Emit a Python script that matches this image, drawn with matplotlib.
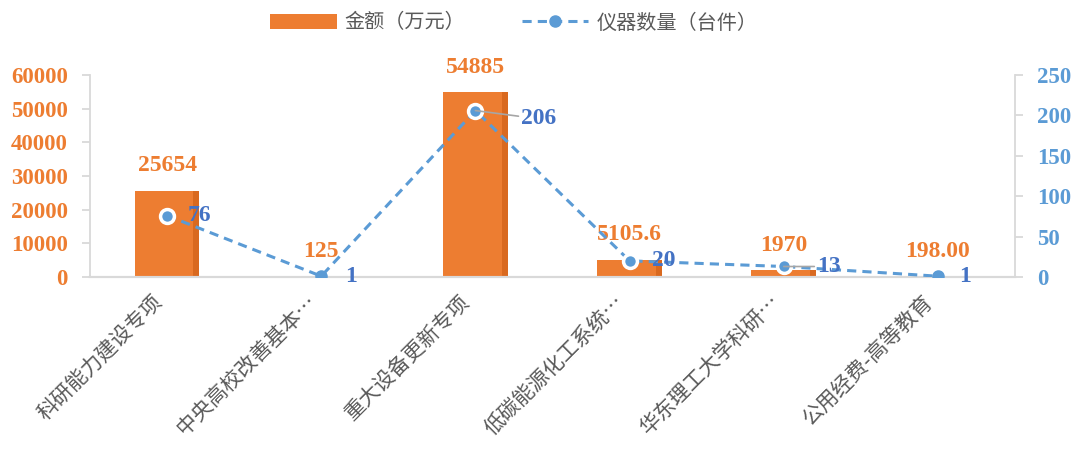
import matplotlib
matplotlib.use('Agg')
import matplotlib.pyplot as plt
from matplotlib.patches import Patch
from matplotlib.lines import Line2D
import numpy as np

# ===========数据================
categories = ['科研能力建设专项', '中央高校改善基本…', '重大设备更新专项',
              '低碳能源化工系统…', '华东理工大学科研…', '公用经费-高等教育']
amount = [25654, 125, 54885, 5105.6, 1970, 198.00]
amount_labels = ['25654', '125', '54885', '5105.6', '1970', '198.00']
count = [76, 1, 206, 20, 13, 1]

ORANGE = '#ED7D31'
ORANGE_DARK = '#D9691F'
BLUE = '#5B9BD5'
BLUE_TXT = '#4472C4'
GRAY = '#595959'
CJK = ['Noto Sans CJK SC', 'DejaVu Sans']
NUM = ['Liberation Serif', 'DejaVu Serif']

plt.rcParams['font.family'] = CJK
plt.rcParams['axes.unicode_minus'] = False

fig = plt.figure(figsize=(10.75, 4.5), dpi=100)
ax = fig.add_axes([90 / 1075, 1 - 277 / 450, 925 / 1075, 202 / 450])
ax2 = ax.twinx()

x = np.arange(len(categories))
bw = 0.42
ax.bar(x, amount, width=bw, color=ORANGE, zorder=2)
# 右侧深色阴影条
ax.bar(x + bw / 2 - 0.02, amount, width=0.04, color=ORANGE_DARK, zorder=2)

ax.set_xlim(-0.5, len(categories) - 0.5)
ax.set_ylim(0, 60000)
ax.set_yticks(np.arange(0, 60001, 10000))
ax2.set_ylim(0, 250)
ax2.set_yticks(np.arange(0, 251, 50))

# 折线
ax2.plot(x, count, color=BLUE, lw=2.2, ls=(0, (3, 2)), zorder=3)
ring = [0, 2, 3, 4]
plain = [1, 5]
ax2.plot(x[ring], [count[i] for i in ring], ls='none', marker='o', ms=10,
         mfc=BLUE, mec='white', mew=2.5, zorder=4)
ax2.plot(x[plain], [count[i] for i in plain], ls='none', marker='o', ms=8,
         mfc=BLUE, mec=BLUE, zorder=4)

# 柱标签
for xi, v, lab in zip(x, amount, amount_labels):
    ax.annotate(lab, (xi, v), xytext=(0, 18), textcoords='offset points',
                ha='center', va='center', color=ORANGE, fontsize=17,
                fontweight='bold', family=NUM, zorder=5)

# 折线标签
offs = [(15, 0), (17, 0), (33, -6), (16, 0), (24, 0), (15, 0)]
for i, (xi, v) in enumerate(zip(x, count)):
    kw = {}
    if i in (2, 4):
        kw['arrowprops'] = dict(arrowstyle='-', color='#A6A6A6', lw=1.2,
                                shrinkA=0, shrinkB=0)
    ax2.annotate(str(v), (xi, v), xytext=offs[i], textcoords='offset points',
                 ha='left', va='center', color=BLUE_TXT, fontsize=17,
                 fontweight='bold', family=NUM, zorder=5, **kw)

# 坐标轴样式
for a in (ax, ax2):
    a.spines['top'].set_visible(False)
    a.spines['bottom'].set_color('#D9D9D9')
    a.spines['bottom'].set_linewidth(1.5)
ax.spines['right'].set_visible(False)
ax2.spines['left'].set_visible(False)
ax.spines['left'].set_color('#D9D9D9')
ax.spines['left'].set_linewidth(1.3)
ax2.spines['right'].set_color('#D9D9D9')
ax2.spines['right'].set_linewidth(1.3)

ax.tick_params(axis='y', length=6, color='#D9D9D9', width=1.3, pad=10,
               labelcolor=ORANGE)
ax2.tick_params(axis='y', length=6, color='#D9D9D9', width=1.3, pad=10,
                labelcolor=BLUE)
for lab in ax.get_yticklabels() + ax2.get_yticklabels():
    lab.set_fontfamily(NUM)
    lab.set_fontsize(16.5)
    lab.set_fontweight('bold')

ax.set_xticks(x)
ax.set_xticklabels(categories, rotation=45, ha='right', fontsize=15,
                   color=GRAY, fontweight='light')
ax.tick_params(axis='x', length=0, pad=10)

# 图例
handles = [Patch(facecolor=ORANGE, edgecolor='none'),
           Line2D([0], [0], color=BLUE, lw=2.2, ls=(0, (3, 2)), marker='o',
                  ms=8, mfc=BLUE, mec=BLUE)]
fig.legend(handles, ['金额（万元）', '仪器数量（台件）'], loc='center',
           bbox_to_anchor=(0.478, 0.949), ncol=2, frameon=False,
           fontsize=14.5, labelcolor=GRAY, handlelength=3.3, handleheight=0.8,
           columnspacing=2.8, handletextpad=0.4)

fig.savefig('out.png', dpi=100)
